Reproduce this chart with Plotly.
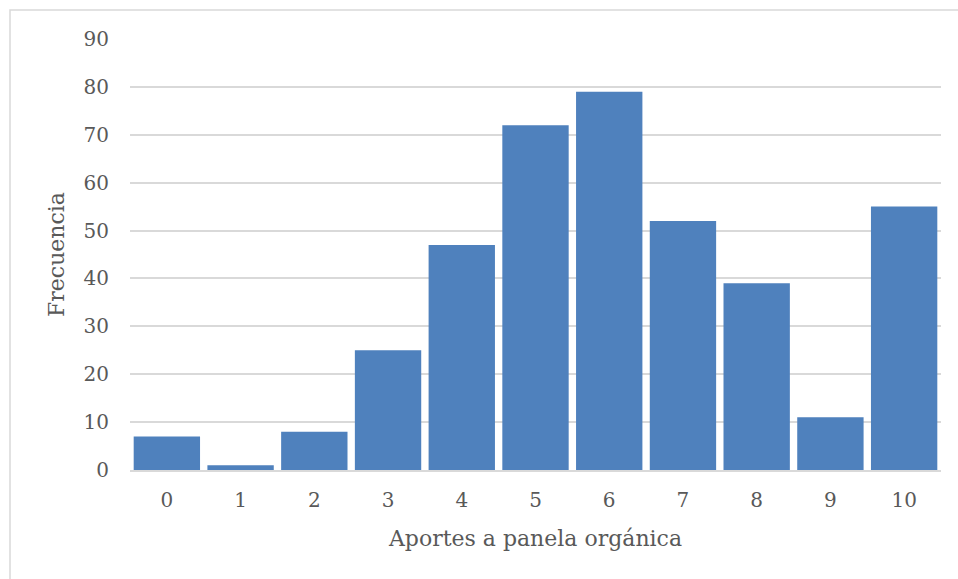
import plotly.graph_objects as go

# Frequency of contributions to organic panela, scored 0-10
categories = ["0", "1", "2", "3", "4", "5", "6", "7", "8", "9", "10"]
frecuencia = [7, 1, 8, 25, 47, 72, 79, 52, 39, 11, 55]
y_ticks = [0, 10, 20, 30, 40, 50, 60, 70, 80, 90]

FONT = "DejaVu Serif"
TEXT = "#595959"
GRID = "#d9d9d9"

fig = go.Figure(
    go.Bar(
        x=categories,
        y=frecuencia,
        marker=dict(color="#4f81bd", line=dict(width=0)),
    )
)

fig.update_layout(
    width=958,
    height=579,
    margin=dict(l=130, r=17, t=39, b=109),
    paper_bgcolor="white",
    plot_bgcolor="white",
    bargap=0.1,
    showlegend=False,
    font=dict(family=FONT, size=20, color=TEXT),
    shapes=[
        # outer chart frame (runs past the right and bottom edges of the page)
        dict(type="rect", xref="paper", yref="paper",
             x0=-120 / 811, x1=1 + 60 / 811, y0=-200 / 430, y1=1 + 29 / 430,
             line=dict(color=GRID, width=1.5), fillcolor="rgba(0,0,0,0)", layer="below"),
    ],
)

fig.update_xaxes(
    type="category",
    showline=True,
    linecolor=GRID,
    linewidth=1.5,
    ticks="outside",
    ticklen=11,
    tickcolor="rgba(0,0,0,0)",
    tickfont=dict(family=FONT, size=20, color=TEXT),
    title=dict(text="Aportes a panela orgánica", font=dict(family=FONT, size=22, color=TEXT), standoff=20),
)

fig.update_yaxes(
    range=[0, 90],
    tickvals=y_ticks,
    showgrid=True,
    gridcolor=GRID,
    gridwidth=1.5,
    zeroline=False,
    ticks="outside",
    ticklen=16,
    tickcolor="rgba(0,0,0,0)",
    tickfont=dict(family=FONT, size=20, color=TEXT),
    title=dict(text="Frecuencia", font=dict(family=FONT, size=22, color=TEXT), standoff=12),
)

fig.write_html("out.html")
